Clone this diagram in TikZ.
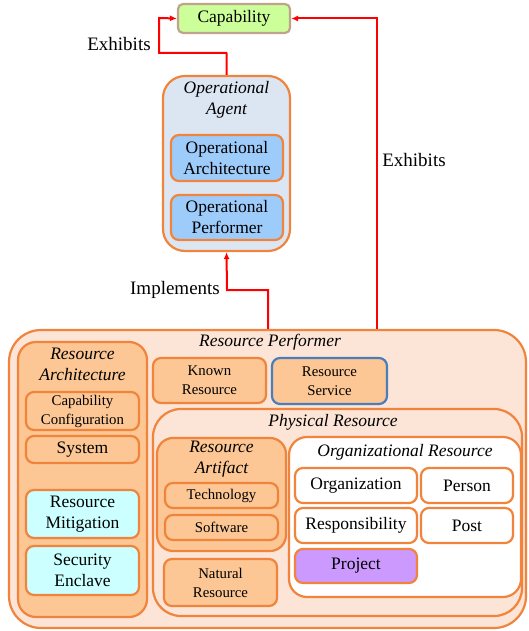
\documentclass[tikz,border=0pt]{standalone}
\usepackage{fontspec}
\setmainfont{Liberation Serif}
\usetikzlibrary{arrows.meta}
\definecolor{edgeorange}{HTML}{F0843C}
\definecolor{peachlight}{HTML}{FCE4D6}
\definecolor{peach}{HTML}{FCC794}
\definecolor{agentblue}{HTML}{DCE6F2}
\definecolor{opblue}{HTML}{9DCBFA}
\definecolor{capgreen}{HTML}{CCFF99}
\definecolor{capedge}{HTML}{BFA38C}
\definecolor{mitcyan}{HTML}{CCFFFF}
\definecolor{projviolet}{HTML}{CC99FF}
\definecolor{serviceblue}{HTML}{4A7EBB}
\definecolor{relred}{HTML}{FF0000}
\tikzset{
  sz/.style 2 args={minimum width=#1pt, minimum height=#2pt},
  box/.style={draw=edgeorange, line width=2.2pt, rounded corners=8pt, inner sep=0pt,
    align=center, font=\fontsize{17.5}{21}\selectfont},
  smallbox/.style={box, font=\fontsize{14.8}{19}\selectfont},
  group/.style={draw=edgeorange, line width=2.2pt, inner sep=0pt},
  grouptitle/.style={align=center, inner sep=0pt, font=\fontsize{17.5}{21}\selectfont\itshape},
  rel/.style={draw=relred, line width=2pt, -{Latex[length=7pt,width=6pt]}},
  rellabel/.style={inner sep=0pt, font=\fontsize{19}{22}\selectfont},
}
\begin{document}
\begin{tikzpicture}[x=1pt, y=-1pt]
\useasboundingbox (0,0) rectangle (528,631);

% Capability
\node[box, draw=capedge, fill=capgreen, rounded corners=5pt, sz={112}{29}] (cap) at (234,18.5) {Capability};

% Operational agent
\node[group, fill=agentblue, rounded corners=22pt, sz={127}{175}] (opagent) at (226.5,163.5) {};
\node[grouptitle] (opagentT) at (226.5,99.5) {Operational\\Agent};
\node[box, fill=opblue, sz={112}{46}] (oparch) at (227,158) {Operational\\Architecture};
\node[box, fill=opblue, sz={112}{45}] (opperf) at (227,217.5) {Operational\\Performer};

% Resource performer
\node[group, fill=peachlight, rounded corners=32pt, sz={517}{298}] (rp) at (267.5,479) {};
\node[grouptitle] (rpT) at (270,342) {Resource Performer};

% Resource architecture
\node[group, fill=peach, rounded corners=18pt, sz={129}{275}] (ra) at (82.5,479.5) {};
\node[grouptitle] (raT) at (82.5,364.5) {Resource\\Architecture};
\node[smallbox, fill=peach, sz={113}{38}] (capconf) at (82.5,411) {Capability\\Configuration};
\node[box, fill=peach, sz={113}{27}] (system) at (82.5,449.5) {System};
\node[box, fill=mitcyan, sz={113}{48}] (resmit) at (82.5,514) {Resource\\Mitigation};
\node[box, fill=mitcyan, sz={113}{49}] (secenc) at (82.5,570.5) {Security\\Enclave};

% Known resource and resource service
\node[smallbox, fill=peach, sz={113}{45}] (known) at (209.5,380.5) {Known\\Resource};
\node[smallbox, draw=serviceblue, fill=peach, sz={115}{46}] (service) at (329.5,381) {Resource\\Service};

% Physical resource
\node[group, fill=peachlight, rounded corners=28pt, sz={369}{207}] (phys) at (337.5,512.5) {};
\node[grouptitle] (physT) at (333,422) {Physical Resource};

% Resource artifact
\node[group, fill=peach, rounded corners=16pt, sz={129}{113}] (artifact) at (221.5,494.5) {};
\node[grouptitle] (artifactT) at (221.5,459.5) {Resource\\Artifact};
\node[smallbox, fill=peach, sz={113}{25}] (tech) at (221.5,495.5) {Technology};
\node[smallbox, fill=peach, sz={113}{25}] (soft) at (221.5,527.5) {Software};
\node[smallbox, fill=peach, sz={113}{47}] (natural) at (220.5,582.5) {Natural\\Resource};

% Organizational resource
\node[group, fill=white, rounded corners=18pt, sz={232}{160}] (orgres) at (405,517) {};
\node[grouptitle] (orgresT) at (405,452) {Organizational Resource};
\node[box, fill=white, sz={122}{35}] (org) at (356,485.5) {Organization};
\node[box, fill=white, sz={92}{35}] (person) at (467,485.5) {Person};
\node[box, fill=white, sz={122}{35}] (resp) at (356,525.5) {Responsibility};
\node[box, fill=white, sz={92}{35}] (post) at (467,525.5) {Post};
\node[box, fill=projviolet, sz={122}{34}] (project) at (356,566) {Project};

% Relations
\draw[rel] (opagent.north) |- (227,53) -| (159,18) -- (cap.west);
\draw[rel] (rp.north -| 268,0) |- (227,290) -- (opagent.south);
\draw[rel] (rp.north -| 377,0) |- (cap.east);

\node[rellabel] (lblExhibitsL) at (119,44) {Exhibits};
\node[rellabel] (lblExhibitsR) at (414,160) {Exhibits};
\node[rellabel] (lblImpl) at (175,290) {Implements};
\end{tikzpicture}
\end{document}
